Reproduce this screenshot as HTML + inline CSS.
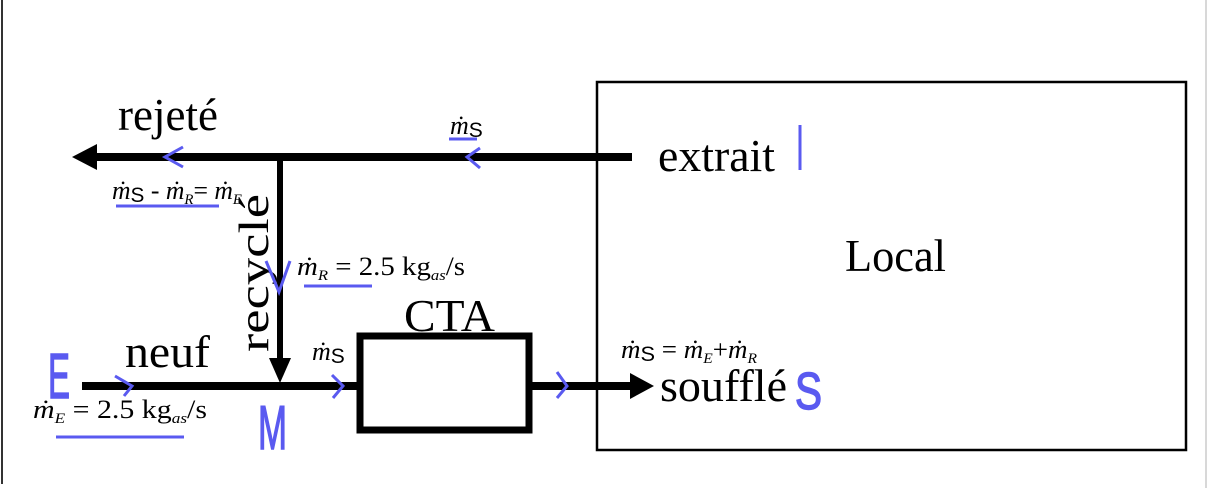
<!DOCTYPE html>
<html><head><meta charset="utf-8"><style>
html,body{margin:0;padding:0;background:#fff;}
svg{display:block;}
.t{font-family:"Liberation Serif",serif;fill:#000;}
.b{font-family:"Liberation Sans",sans-serif;fill:#5a5af0;stroke:#5a5af0;stroke-width:1.5;}
.i{font-family:"Liberation Serif",serif;font-style:italic;}
</style></head><body>
<svg width="1208" height="488" viewBox="0 0 1208 488" xmlns="http://www.w3.org/2000/svg">
<rect x="0" y="0" width="1208" height="488" fill="#fff"/>
<line x1="2" y1="0" x2="2" y2="484" stroke="#333" stroke-width="2"/>
<line x1="1206" y1="0" x2="1206" y2="488" stroke="#ccc" stroke-width="1.5"/>
<rect x="597" y="82" width="589" height="368" fill="none" stroke="#000" stroke-width="2.5"/>
<line x1="92" y1="157" x2="632" y2="157" stroke="#000" stroke-width="8"/>
<polygon points="72,157 97,144 97,170" fill="#000"/>
<line x1="280" y1="157" x2="280" y2="362" stroke="#000" stroke-width="6"/>
<polygon points="280,383 269,358 291,358" fill="#000"/>
<line x1="82" y1="386" x2="358" y2="386" stroke="#000" stroke-width="8"/>
<rect x="360" y="336" width="169" height="94" fill="none" stroke="#000" stroke-width="7"/>
<line x1="530" y1="386" x2="632" y2="386" stroke="#000" stroke-width="8"/>
<polygon points="654,386 630,373 630,399" fill="#000"/>
<text class="t" x="118" y="130" font-size="46" textLength="100" lengthAdjust="spacingAndGlyphs">rejeté</text>
<text class="t" x="658" y="171" font-size="46" textLength="117" lengthAdjust="spacingAndGlyphs">extrait</text>
<text class="t" x="845" y="271" font-size="46" textLength="101" lengthAdjust="spacingAndGlyphs">Local</text>
<text class="t" x="404" y="331" font-size="46" textLength="91" lengthAdjust="spacingAndGlyphs">CTA</text>
<text class="t" x="125" y="367" font-size="46" textLength="85" lengthAdjust="spacingAndGlyphs">neuf</text>
<text class="t" x="660" y="401" font-size="46" textLength="127" lengthAdjust="spacingAndGlyphs">soufflé</text>
<text class="t" x="0" y="0" font-size="42" textLength="158" lengthAdjust="spacingAndGlyphs" transform="translate(268,352) rotate(-90)">recyclé</text>
<g stroke="#5a5af0" stroke-width="3" fill="none">
<line x1="800" y1="125" x2="800" y2="170"/>
<polyline points="183,147 165,157 183,167"/>
<polyline points="480,148 467,157 480,168"/>
<polyline points="266,261 279,292 290,261"/>
<polyline points="115,376 132,386 124,396"/>
<polyline points="332,375 343,386 333,398"/>
<polyline points="557,372 567,386 557,398"/>
<line x1="449" y1="139" x2="477" y2="139"/>
<line x1="116" y1="206" x2="219" y2="206"/>
<line x1="304" y1="286" x2="372" y2="286"/>
<line x1="56" y1="437" x2="184" y2="437"/>
</g>
<text class="b" x="48" y="398" font-size="64" textLength="22" lengthAdjust="spacingAndGlyphs">E</text>
<text class="b" x="795" y="409" font-size="52" textLength="27" lengthAdjust="spacingAndGlyphs">S</text>
<text class="b" x="258" y="449" font-size="62" textLength="29" lengthAdjust="spacingAndGlyphs">M</text>
<g font-size="26">
<text x="450" y="134"><tspan class="i">ṁ</tspan><tspan font-family="Liberation Sans" font-size="21" dy="3">S</tspan></text>
<text x="112" y="199" textLength="130" lengthAdjust="spacingAndGlyphs"><tspan class="i">ṁ</tspan><tspan font-family="Liberation Sans" font-size="21" dy="3">S</tspan><tspan font-family="Liberation Serif" dy="-3"> - </tspan><tspan class="i">ṁ</tspan><tspan class="i" font-size="15" dy="5">R</tspan><tspan font-family="Liberation Serif" dy="-5">=  </tspan><tspan class="i">ṁ</tspan><tspan class="i" font-size="15" dy="5">E</tspan></text>
<text x="297" y="275" textLength="168" lengthAdjust="spacingAndGlyphs"><tspan class="i">ṁ</tspan><tspan class="i" font-size="15" dy="5">R</tspan><tspan font-family="Liberation Serif" dy="-5">  = 2.5 kg</tspan><tspan class="i" font-size="15" dy="5">as</tspan><tspan font-family="Liberation Serif" dy="-5">/s</tspan></text>
<text x="312" y="360"><tspan class="i">ṁ</tspan><tspan font-family="Liberation Sans" font-size="21" dy="3">S</tspan></text>
<text x="621" y="358" textLength="136" lengthAdjust="spacingAndGlyphs"><tspan class="i">ṁ</tspan><tspan font-family="Liberation Sans" font-size="21" dy="3">S</tspan><tspan font-family="Liberation Serif" dy="-3"> = </tspan><tspan class="i">ṁ</tspan><tspan class="i" font-size="15" dy="5">E</tspan><tspan font-family="Liberation Serif" dy="-5">+</tspan><tspan class="i">ṁ</tspan><tspan class="i" font-size="15" dy="5">R</tspan></text>
<text x="33" y="418" textLength="174" lengthAdjust="spacingAndGlyphs"><tspan class="i">ṁ</tspan><tspan class="i" font-size="15" dy="5">E</tspan><tspan font-family="Liberation Serif" dy="-5">  = 2.5 kg</tspan><tspan class="i" font-size="15" dy="5">as</tspan><tspan font-family="Liberation Serif" dy="-5">/s</tspan></text>
</g>
</svg>
</body></html>
